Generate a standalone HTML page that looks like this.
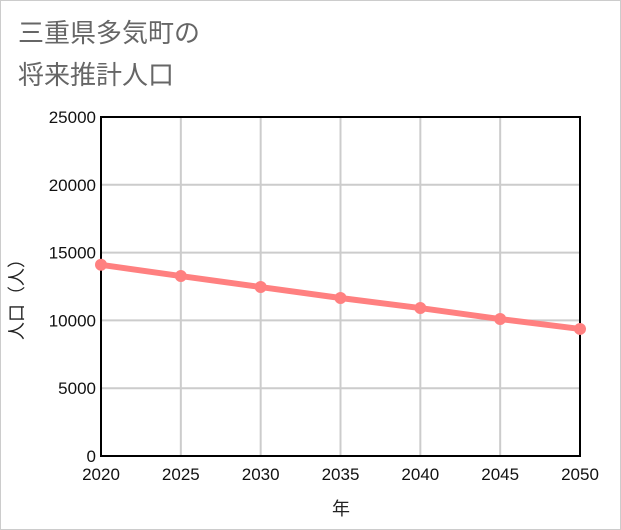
<!DOCTYPE html>
<html><head><meta charset="utf-8">
<style>
html,body{margin:0;padding:0;background:#fff;}
body{width:621px;height:530px;overflow:hidden;font-family:"Liberation Sans","Noto Sans CJK JP",sans-serif;}
#frame{position:absolute;left:0;top:0;width:619px;height:528px;border:1px solid #ccc;}
</style></head>
<body>
<div id="frame"></div>
<svg id="chart" width="621" height="530" style="position:absolute;left:0;top:0">
  <text x="18" y="42" font-size="26" fill="#666" font-family="Liberation Sans,Noto Sans CJK JP,sans-serif">三重県多気町の</text>
  <text x="18" y="84" font-size="26" fill="#666" font-family="Liberation Sans,Noto Sans CJK JP,sans-serif">将来推計人口</text>
  <g id="grid"></g>
  <g id="axes"></g>
  <g id="series"></g>
  <text x="341" y="515" font-size="18" text-anchor="middle" fill="#222" font-family="Liberation Sans,Noto Sans CJK JP,sans-serif">年</text>
  <text transform="translate(23,295) rotate(-90)" font-size="18" text-anchor="middle" fill="#222" font-family="Liberation Sans,Noto Sans CJK JP,sans-serif">人口（人）</text>
</svg>
<script>
const years = [2020, 2025, 2030, 2035, 2040, 2045, 2050];
const population = [14100, 13270, 12460, 11650, 10910, 10100, 9370];
const yTicks = [0, 5000, 10000, 15000, 20000, 25000];

const L = 101, R = 580, T = 117, B = 456;
const NS = 'http://www.w3.org/2000/svg';
function xs(v){ return L + (v - years[0]) / (years[years.length-1] - years[0]) * (R - L); }
function ys(v){ return B - v / 25000 * (B - T); }
function mk(tag, attrs, parent){
  const e = document.createElementNS(NS, tag);
  for (const k in attrs) e.setAttribute(k, attrs[k]);
  parent.appendChild(e); return e;
}
const grid = document.getElementById('grid');
const axes = document.getElementById('axes');
const series = document.getElementById('series');

yTicks.forEach(t => {
  const y = ys(t);
  const g = mk('line', {x1:L, x2:R, y1:y, y2:y, stroke:'#ccc', 'stroke-width':2}, grid);
  
  
  const lb = mk('text', {x:L-5, y:y+6, 'text-anchor':'end', 'font-size':17, fill:'#111'}, axes);
  lb.textContent = t;
  
  
});
years.forEach(yr => {
  const x = xs(yr);
  const g = mk('line', {x1:x, x2:x, y1:T, y2:B, stroke:'#ccc', 'stroke-width':2}, grid);
  
  
  const lb = mk('text', {x:x, y:B+24, 'text-anchor':'middle', 'font-size':17, fill:'#111'}, axes);
  lb.textContent = yr;
  
  
});
const box = mk('rect', {x:L, y:T, width:R-L, height:B-T, fill:'none', stroke:'#000', 'stroke-width':2}, axes);



const pts = years.map((yr,i) => xs(yr) + ',' + ys(population[i])).join(' ');
const line = mk('polyline', {points:pts, fill:'none', stroke:'#ff8080', 'stroke-width':6}, series);


years.forEach((yr,i) => {
  const c = mk('circle', {cx:xs(yr), cy:ys(population[i]), r:6, fill:'#ff8080'}, series);
  
  
});
</script>
</body></html>
